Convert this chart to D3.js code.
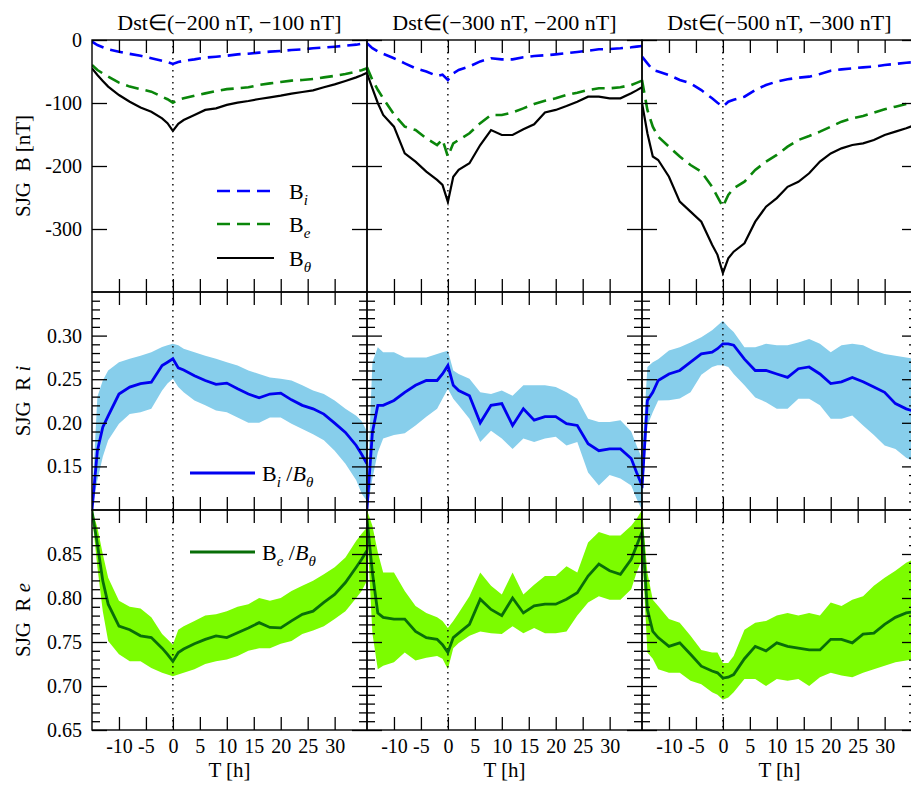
<!DOCTYPE html>
<html>
<head>
<meta charset="utf-8">
<script src="https://d3js.org/d3.v7.min.js"></script>
<style>
body { margin: 0; background: #fff; }
text { font-family: "Liberation Serif", "Times New Roman", serif; fill: #000; }
</style>
</head>
<body>
<script>
// hours relative to the Dst minimum (shared by every series)
var T = [-15,-14,-13,-12,-10,-8,-6,-4,-2,-1,0,1,2,4,6,8,10,12,14,16,18,20,22,24,26,28,30,32,34,35,36];

var titles = ["Dst\u2208(\u2212200 nT, \u2212100 nT]", "Dst\u2208(\u2212300 nT, \u2212200 nT]", "Dst\u2208(\u2212500 nT, \u2212300 nT]"];
var xTicks = [-10,-5,0,5,10,15,20,25,30];
var bTicks = [0,-100,-200,-300];
var riTicks = [0.15,0.20,0.25,0.30];
var reTicks = [0.65,0.70,0.75,0.80,0.85];

// top row: B components [nT]
var bi1 = [-2.6,-8,-11.5,-14.8,-18.5,-22,-25,-29,-32.8,-35,-38,-35,-33,-30.7,-28,-26.5,-25,-22.8,-21.7,-20,-18.5,-17.5,-15.9,-14.8,-13.2,-12,-10.6,-9,-7.4,-6,-4.2];
var be1 = [-39.7,-47.6,-53,-58,-67.7,-74,-78,-82,-90,-94,-99.5,-95,-92.6,-88.4,-84.7,-81,-78,-76.7,-75,-71.4,-68.8,-66.7,-64.5,-63.5,-62,-59.3,-57,-54,-50.3,-48,-45];
var bt1 = [-45,-55.6,-65,-74,-87.3,-98,-107,-113.8,-124.3,-132,-144.4,-133,-127,-119,-111,-108.5,-103,-99.5,-96.8,-93.7,-91,-88.4,-85,-82.5,-80,-75,-70.4,-65,-59.3,-56,-52];

var bi2 = [-5.3,-13,-18,-22,-29,-37,-45,-50,-57,-55,-63.5,-53,-47.6,-42,-34,-29,-30.7,-30.7,-27.5,-25.4,-24.3,-22.8,-21,-19,-17,-14.8,-14.3,-13.2,-11.6,-10.5,-9.5];
var be2 = [-43.4,-63.5,-79,-92.6,-118,-137.6,-142.9,-156,-166.7,-158,-185,-164,-158.7,-148,-132,-119,-119,-115,-108.5,-101.6,-96.3,-92.6,-87.3,-83.6,-79.4,-76.7,-76.7,-75,-71.4,-68,-64.6];
var bt2 = [-52.9,-76.7,-100,-119,-137.6,-180,-193,-209,-222,-230,-257,-217,-206,-195.7,-166.7,-142.9,-150.8,-150.8,-141.8,-133.9,-115,-111,-104.8,-98,-90,-90,-92.6,-92.6,-84.6,-80,-75];

var bi3 = [-26.5,-37,-47.6,-50,-55.6,-63.5,-68.8,-79.4,-92.6,-99.5,-105.8,-98,-95,-90,-79.4,-71.4,-66,-62.4,-59.8,-58.2,-54,-48.7,-46.6,-45,-43.4,-42.3,-39.7,-38,-36,-35.5,-35];
var be3 = [-63.5,-111,-137.6,-153.4,-169.3,-185,-198.4,-209,-233,-249,-264.6,-246,-235.4,-224.9,-206.3,-193,-182.5,-169.3,-158.7,-152.4,-145.5,-137.6,-129.6,-124.3,-120.6,-115.3,-110,-105.8,-101.6,-99.5,-98];
var bt3 = [-100,-148,-185,-190.5,-217,-256.6,-272.5,-288.4,-325,-341,-370,-346.5,-336,-322.7,-288.4,-264.6,-251,-233,-225,-211.6,-193,-180,-172,-166.7,-164,-158.7,-150.8,-145.5,-140,-137,-134];

// middle row: Ri = Bi/Btheta, mean and spread
var ri1 = [0.10,0.168,0.195,0.208,0.233,0.241,0.245,0.2466,0.2657,0.2695,0.2734,0.263,0.2606,0.254,0.2485,0.244,0.2455,0.239,0.233,0.2286,0.233,0.234,0.2263,0.22,0.216,0.21,0.1996,0.189,0.174,0.164,0.153];
var ri1Hi = [0.11,0.23,0.2485,0.26,0.2695,0.2734,0.277,0.281,0.287,0.289,0.2906,0.289,0.285,0.281,0.277,0.2734,0.2695,0.2657,0.26,0.256,0.252,0.2505,0.2485,0.243,0.237,0.233,0.2256,0.216,0.208,0.202,0.19];
var ri1Lo = [0.10,0.134,0.161,0.18,0.199,0.21,0.212,0.216,0.237,0.245,0.2504,0.241,0.235,0.2256,0.22,0.214,0.212,0.206,0.20,0.20,0.206,0.206,0.199,0.193,0.187,0.18,0.168,0.153,0.134,0.119,0.11];

var ri2 = [0.101,0.189,0.22,0.22,0.2256,0.235,0.243,0.2485,0.2485,0.256,0.2657,0.243,0.237,0.231,0.20,0.22,0.222,0.197,0.216,0.203,0.207,0.207,0.199,0.197,0.176,0.168,0.17,0.17,0.159,0.143,0.128];
var ri2Hi = [0.11,0.2695,0.2867,0.281,0.281,0.275,0.275,0.275,0.279,0.281,0.2826,0.26,0.256,0.2504,0.235,0.233,0.237,0.231,0.243,0.243,0.243,0.241,0.235,0.2275,0.2046,0.201,0.201,0.203,0.19,0.174,0.159];
var ri2Lo = [0.10,0.136,0.166,0.182,0.186,0.188,0.197,0.207,0.216,0.2275,0.239,0.2275,0.22,0.2046,0.178,0.191,0.182,0.17,0.182,0.178,0.182,0.184,0.174,0.178,0.143,0.128,0.14,0.136,0.128,0.113,0.10];

var ri3 = [0.125,0.2256,0.235,0.2485,0.256,0.26,0.2695,0.279,0.281,0.285,0.2906,0.2906,0.289,0.273,0.26,0.26,0.256,0.252,0.262,0.264,0.256,0.245,0.247,0.252,0.247,0.241,0.235,0.222,0.216,0.214,0.213];
var ri3Hi = [0.16,0.264,0.2695,0.273,0.283,0.2867,0.292,0.298,0.306,0.3116,0.317,0.31,0.304,0.2867,0.2867,0.2906,0.289,0.289,0.292,0.296,0.2906,0.281,0.289,0.2906,0.289,0.283,0.279,0.277,0.275,0.274,0.274];
var ri3Lo = [0.11,0.197,0.212,0.2256,0.226,0.228,0.235,0.255,0.264,0.266,0.266,0.264,0.256,0.243,0.229,0.2237,0.216,0.216,0.2275,0.2275,0.22,0.2046,0.2046,0.2085,0.197,0.186,0.174,0.17,0.16,0.157,0.155];

// bottom row: Re = Be/Btheta, mean and spread
var re1 = [0.899,0.861,0.8195,0.793,0.768,0.764,0.757,0.755,0.743,0.736,0.728,0.738,0.742,0.748,0.753,0.757,0.755,0.7605,0.766,0.772,0.7665,0.766,0.774,0.7815,0.785,0.795,0.804,0.8176,0.835,0.844,0.854];
var re1Hi = [0.90,0.88,0.85,0.823,0.797,0.79,0.788,0.778,0.759,0.753,0.747,0.764,0.768,0.774,0.78,0.7815,0.785,0.79,0.793,0.80,0.797,0.80,0.808,0.814,0.8195,0.827,0.835,0.846,0.865,0.873,0.88];
var re1Lo = [0.895,0.835,0.785,0.751,0.736,0.728,0.728,0.7205,0.715,0.713,0.711,0.713,0.715,0.719,0.725,0.728,0.73,0.734,0.74,0.743,0.743,0.748,0.751,0.759,0.763,0.768,0.776,0.785,0.80,0.808,0.8195];

var re2 = [0.89,0.829,0.783,0.778,0.776,0.776,0.762,0.755,0.753,0.747,0.738,0.755,0.76,0.77,0.7986,0.787,0.78,0.80,0.783,0.791,0.793,0.793,0.7986,0.806,0.825,0.8386,0.831,0.827,0.844,0.8595,0.875];
var re2Hi = [0.90,0.882,0.852,0.829,0.829,0.808,0.791,0.783,0.778,0.774,0.766,0.774,0.783,0.802,0.829,0.814,0.804,0.829,0.804,0.815,0.825,0.825,0.836,0.829,0.863,0.875,0.871,0.871,0.882,0.89,0.90];
var re2Lo = [0.88,0.76,0.719,0.723,0.727,0.738,0.729,0.732,0.734,0.731,0.719,0.743,0.749,0.757,0.762,0.76,0.759,0.768,0.76,0.766,0.76,0.76,0.762,0.78,0.795,0.802,0.798,0.798,0.81,0.829,0.844];

var re3 = [0.88,0.787,0.762,0.755,0.745,0.749,0.736,0.7225,0.717,0.715,0.709,0.71,0.713,0.731,0.745,0.74,0.749,0.745,0.743,0.741,0.741,0.753,0.753,0.749,0.759,0.76,0.77,0.778,0.783,0.784,0.785];
var re3Hi = [0.90,0.829,0.798,0.791,0.776,0.772,0.757,0.741,0.738,0.738,0.726,0.726,0.734,0.764,0.772,0.774,0.78,0.783,0.78,0.783,0.78,0.795,0.791,0.798,0.802,0.814,0.823,0.831,0.84,0.843,0.846];
var re3Lo = [0.86,0.738,0.731,0.719,0.715,0.715,0.706,0.702,0.693,0.69,0.6845,0.687,0.693,0.708,0.708,0.70,0.708,0.706,0.708,0.70,0.71,0.715,0.712,0.71,0.715,0.719,0.723,0.727,0.729,0.73,0.73];

var bI = [bi1, bi2, bi3], bE = [be1, be2, be3], bT = [bt1, bt2, bt3];
var rI = [[ri1, ri1Lo, ri1Hi], [ri2, ri2Lo, ri2Hi], [ri3, ri3Lo, ri3Hi]];
var rE = [[re1, re1Lo, re1Hi], [re2, re2Lo, re2Hi], [re3, re3Lo, re3Hi]];

var W = 275;
var colX = [92, 367, 642];
var rows = [
  {y0: 40, h: 252, dom: [-400, 0]},
  {y0: 292, h: 218, dom: [0.10, 0.35]},
  {y0: 510, h: 220, dom: [0.65, 0.90]}
];

var svg = d3.select("body").append("svg")
  .attr("width", 911)
  .attr("height", 785);

var x = d3.scaleLinear().domain([-15, 36]).range([0, W]);
var serif = "Liberation Serif, Times New Roman, serif";

function pairs(ys) { return T.map(function(t, i) { return [t, ys[i]]; }); }
function band(lo, hi) { return T.map(function(t, i) { return [t, lo[i], hi[i]]; }); }

function styleAxis(g) {
  g.select(".domain").remove();
  g.selectAll("line").attr("stroke", "#000").attr("stroke-width", 1.3);
  g.attr("font-family", serif).attr("font-size", 20);
}

for (var r = 0; r < 3; r++) {
  var row = rows[r];
  var y = d3.scaleLinear().domain(row.dom).range([row.h, 0]);
  for (var c = 0; c < 3; c++) {
    var g = svg.append("g").attr("transform", "translate(" + colX[c] + "," + row.y0 + ")");
    var cid = "clip" + r + c;
    g.append("clipPath").attr("id", cid)
      .append("rect").attr("width", W).attr("height", row.h);
    var plot = g.append("g").attr("clip-path", "url(#" + cid + ")");

    if (r == 0) {
      var line = d3.line().x(function(d) { return x(d[0]); }).y(function(d) { return y(d[1]); });
      plot.append("line")
        .attr("x1", x(0)).attr("x2", x(0)).attr("y1", 0).attr("y2", row.h)
        .attr("stroke", "#000").attr("stroke-width", 1.4).attr("stroke-dasharray", "1.5,4.5");
      plot.append("path").datum(pairs(bI[c])).attr("d", line)
        .attr("fill", "none").attr("stroke", "#0000ff").attr("stroke-width", 2.6).attr("stroke-dasharray", "13,7");
      plot.append("path").datum(pairs(bE[c])).attr("d", line)
        .attr("fill", "none").attr("stroke", "#0a860a").attr("stroke-width", 2.6).attr("stroke-dasharray", "13,7");
      plot.append("path").datum(pairs(bT[c])).attr("d", line)
        .attr("fill", "none").attr("stroke", "#000").attr("stroke-width", 2.2);
    } else {
      var set = r == 1 ? rI[c] : rE[c];
      var fillCol = r == 1 ? "#87ceeb" : "#7cfc00";
      var lineCol = r == 1 ? "#0000f0" : "#086e08";
      var area = d3.area().x(function(d) { return x(d[0]); })
        .y0(function(d) { return y(d[1]); }).y1(function(d) { return y(d[2]); });
      var line2 = d3.line().x(function(d) { return x(d[0]); }).y(function(d) { return y(d[1]); });
      plot.append("path").datum(band(set[1], set[2])).attr("d", area).attr("fill", fillCol);
      plot.append("line")
        .attr("x1", x(0)).attr("x2", x(0)).attr("y1", 0).attr("y2", row.h)
        .attr("stroke", "#000").attr("stroke-width", 1.4).attr("stroke-dasharray", "1.5,4.5");
      plot.append("path").datum(pairs(set[0])).attr("d", line2)
        .attr("fill", "none").attr("stroke", lineCol).attr("stroke-width", 2.8);
    }

    // x ticks, top and bottom, pointing inward
    g.append("g").call(d3.axisTop(x).tickValues(xTicks).tickSize(-13).tickFormat("")).call(styleAxis);
    var xb = g.append("g").attr("transform", "translate(0," + row.h + ")")
      .call(d3.axisBottom(x).tickValues(xTicks).tickSize(-13).tickPadding(9)
        .tickFormat(r == 2 ? function(d) { return String(d); } : ""))
      .call(styleAxis);

    // y ticks, left and right, pointing inward
    var major = r == 0 ? bTicks : (r == 1 ? riTicks : reTicks);
    var fmt = r == 0 ? function(d) { return String(d); } : d3.format(".2f");
    g.append("g")
      .call(d3.axisLeft(y).tickValues(major).tickSize(-15).tickPadding(10).tickFormat(c == 0 ? fmt : ""))
      .call(styleAxis);
    g.append("g").attr("transform", "translate(" + W + ",0)")
      .call(d3.axisRight(y).tickValues(major).tickSize(-15).tickFormat(""))
      .call(styleAxis);
    if (r > 0) {
      var minor = d3.range(26).map(function(i) { return +(row.dom[0] + i * 0.01).toFixed(2); })
        .filter(function(v) { return Math.round(v * 100) % 5 != 0; });
      g.append("g").call(d3.axisLeft(y).tickValues(minor).tickSize(-8).tickFormat("")).call(styleAxis);
      g.append("g").attr("transform", "translate(" + W + ",0)")
        .call(d3.axisRight(y).tickValues(minor).tickSize(-8).tickFormat("")).call(styleAxis);
    }

    g.append("rect").attr("width", W).attr("height", row.h)
      .attr("fill", "none").attr("stroke", "#000").attr("stroke-width", 1.4);

    if (r == 0) {
      svg.append("text").attr("x", colX[c] + W / 2).attr("y", 30)
        .attr("text-anchor", "middle").attr("font-size", 22).text(titles[c]);
    }
    if (r == 2) {
      svg.append("text").attr("x", colX[c] + W / 2).attr("y", 777)
        .attr("text-anchor", "middle").attr("font-size", 21).text("T [h]");
    }
  }
}

// y axis titles
function yTitle(cy, parts) {
  var t = svg.append("text")
    .attr("transform", "translate(30," + cy + ") rotate(-90)")
    .attr("text-anchor", "middle").attr("font-size", 21)
    .style("white-space", "pre");
  parts.forEach(function(p) {
    t.append("tspan").attr("font-style", p[1] ? "italic" : null).text(p[0]);
  });
}
yTitle(166, [["SJG  B [nT]", false]]);
yTitle(401, [["SJG  R ", false], ["i", true]]);
yTitle(620, [["SJG  R ", false], ["e", true]]);

// legend label helper: list of [text, italic, subscript]
function label(xp, yp, parts) {
  var t = svg.append("text").attr("x", xp).attr("y", yp).attr("font-size", 22).style("white-space", "pre");
  var low = false;
  parts.forEach(function(p) {
    var s = t.append("tspan").text(p[0]);
    if (p[1]) s.attr("font-style", "italic");
    if (p[2] && !low) { s.attr("dy", 6).attr("font-size", 15); low = true; }
    else if (p[2]) { s.attr("font-size", 15); }
    else if (low) { s.attr("dy", -6); low = false; }
  });
}

var legTop = [
  {y: 191, col: "#0000ff", dash: "13,7", w: 2.6, sub: "i"},
  {y: 224, col: "#0a860a", dash: "13,7", w: 2.6, sub: "e"},
  {y: 258, col: "#000", dash: null, w: 2.2, sub: "\u03b8"}
];
legTop.forEach(function(l) {
  svg.append("line").attr("x1", 217).attr("x2", 274).attr("y1", l.y).attr("y2", l.y)
    .attr("stroke", l.col).attr("stroke-width", l.w).attr("stroke-dasharray", l.dash);
  label(289, l.y + 8, [["B", false, false], [l.sub, true, true]]);
});

svg.append("line").attr("x1", 190).attr("x2", 255).attr("y1", 473).attr("y2", 473)
  .attr("stroke", "#0000f0").attr("stroke-width", 2.8);
label(262, 481, [["B", false, false], ["i", true, true], [" /", false, false], ["B", true, false], ["\u03b8", true, true]]);

svg.append("line").attr("x1", 190).attr("x2", 255).attr("y1", 552).attr("y2", 552)
  .attr("stroke", "#086e08").attr("stroke-width", 2.8);
label(262, 560, [["B", false, false], ["e", true, true], [" /", false, false], ["B", true, false], ["\u03b8", true, true]]);
</script>
</body>
</html>
